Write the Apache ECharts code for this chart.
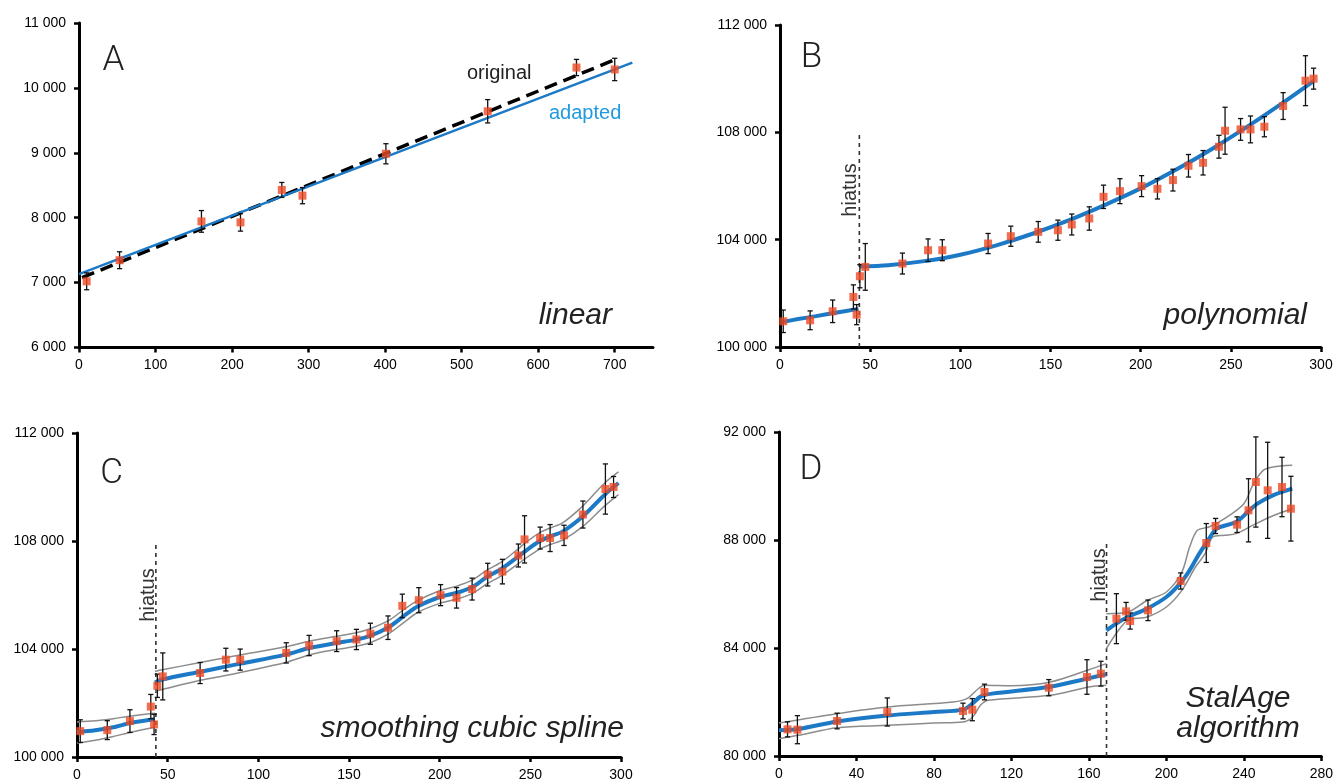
<!DOCTYPE html>
<html>
<head>
<meta charset="utf-8">
<script src="https://cdn.jsdelivr.net/npm/echarts@6/dist/echarts.min.js"></script>
<style>html,body{margin:0;padding:0;background:#fff}#c{width:1336px;height:784px}</style>
</head>
<body>
<div id="c"></div>
<script>
// ---------- Panel A (linear) ----------
const A_x   = [10, 53, 160, 211, 265, 292, 401, 534, 650, 700];
const A_age = [7020, 7345, 7943, 7928, 8428, 8340, 8985, 9640, 10314, 10284];
const A_err = [130, 130, 167, 135, 115, 125, 155, 180, 125, 172];
const A_adapted_x = [0, 723];
const A_adapted_y = [7130, 10390];
const A_original_x = [4, 702];
const A_original_y = [7077, 10443];
const A_xticks = [0, 100, 200, 300, 400, 500, 600, 700];

// ---------- Panels B & C (same dated samples) ----------
const BC_x   = [1.8, 16.7, 29.2, 40.7, 42.5, 44.3, 47.3, 67.9, 82.1, 90, 115.4, 128, 143.2, 154.1, 161.8, 171.5, 179.4, 188.5, 200.5, 209.3, 217.9, 226.5, 234.6, 243.4, 246.8, 255.4, 260.9, 268.6, 279, 291.4, 295.9];
const BC_age = [100958, 100995, 101330, 101866, 101206, 102637, 102985, 103110, 103607, 103607, 103856, 104129, 104291, 104353, 104565, 104789, 105597, 105808, 105995, 105896, 106219, 106754, 106866, 107463, 108060, 108109, 108109, 108209, 108980, 109925, 110000];
const BC_err = [420, 350, 420, 450, 375, 430, 870, 390, 420, 390, 375, 375, 385, 375, 390, 435, 435, 465, 390, 380, 405, 420, 455, 425, 875, 405, 500, 375, 500, 930, 390];

// Panel B polynomial fit (two segments, split by hiatus)
const B_fit1_x = [1, 10, 20, 30, 43.5];
const B_fit1_y = [100930, 101040, 101150, 101270, 101420];
const B_fit2_x = [44.5, 60, 80, 100, 120, 140, 160, 180, 200, 220, 240, 260, 280, 296];
const B_fit2_y = [103000, 103050, 103200, 103440, 103790, 104220, 104720, 105290, 105910, 106620, 107400, 108250, 109155, 109920];
const B_hiatus_x = 44;
const B_hiatus_top = 108050;

// Panel C smoothing spline (median + bounds)
const C_fit1_x  = [0, 10, 20, 30, 43];
const C_fit1_y  = [100920, 100990, 101100, 101270, 101400];
const C_fit1_hi = [101300, 101340, 101420, 101520, 101620];
const C_fit1_lo = [100520, 100620, 100760, 100920, 101100];
const C_fit2_x  = [43, 47, 68, 82, 90, 115, 128, 143, 154, 162, 172, 180, 188, 200, 209, 218, 226, 234, 243, 247, 255, 261, 268, 279, 291, 298.6];
const C_fit2_y  = [102760, 102870, 103160, 103346, 103457, 103790, 104037, 104222, 104346, 104494, 104815, 105210, 105580, 105926, 106074, 106296, 106667, 106963, 107407, 107617, 107988, 108173, 108358, 108914, 109716, 110148];
const C_fit2_hi = [103170, 103230, 103500, 103680, 103780, 104080, 104290, 104470, 104600, 104760, 105060, 105450, 105800, 106160, 106320, 106550, 106920, 107220, 107690, 107920, 108300, 108480, 108680, 109300, 110150, 110560];
const C_fit2_lo = [102430, 102500, 102840, 103020, 103130, 103500, 103780, 103980, 104100, 104240, 104570, 104970, 105360, 105690, 105840, 106050, 106410, 106710, 107140, 107340, 107690, 107870, 108040, 108540, 109300, 109720];
const C_hiatus_x = 43.5;
const C_hiatus_top = 108000;

// ---------- Panel D (StalAge) ----------
const D_x   = [4.4, 9.5, 30, 55.9, 95, 99.8, 106.1, 139.3, 159, 166.2, 174.2, 179.2, 181.3, 190.5, 207.4, 220.6, 225.4, 236.5, 242.4, 246.2, 252.3, 259.7, 264.3];
const D_age = [80988, 80975, 81296, 81630, 81667, 81716, 82370, 82530, 82926, 83049, 85086, 85358, 85000, 85395, 86481, 87889, 88519, 88568, 89099, 90148, 89840, 89963, 89160];
const D_err = [280, 520, 290, 520, 290, 410, 290, 300, 640, 460, 925, 330, 300, 380, 300, 720, 280, 290, 1170, 1670, 1780, 1100, 1200];

const D_fit1_x = [0, 10, 30, 56, 80, 95, 100, 104, 110, 139, 159, 169];
const D_fit1_y = [80950, 81000, 81280, 81500, 81630, 81716, 81950, 82200, 82310, 82556, 82864, 83025];
const D_hi1_x  = [0, 30, 56, 90, 97, 103, 106, 120, 140, 160, 169];
const D_hi1_y  = [81222, 81568, 81815, 82000, 82123, 82500, 82617, 82600, 82740, 83197, 83420];
const D_lo1_x  = [0, 10, 30, 56, 80, 95, 100, 104, 108, 140, 160, 169];
const D_lo1_y  = [80642, 80765, 81049, 81136, 81222, 81259, 81444, 81877, 82062, 82247, 82556, 82617];
const D_fit2_x = [169, 174, 180, 190, 200, 207, 212, 217, 221, 226, 236, 242, 247, 255, 265];
const D_fit2_y = [84654, 84900, 85148, 85457, 85889, 86383, 86877, 87494, 87926, 88420, 88667, 89037, 89346, 89654, 89901];
const D_hi2_x  = [169, 180, 190, 200, 208, 212, 216, 222, 230, 240, 245, 250, 255, 265];
const D_hi2_y  = [85270, 85330, 85760, 86074, 86815, 87741, 88358, 88481, 88790, 89346, 90086, 90580, 90704, 90765];
const D_lo2_x  = [169, 174, 180, 190, 200, 208, 215, 220, 224, 230, 236, 245, 255, 265];
const D_lo2_y  = [83975, 84530, 85025, 85148, 85519, 86136, 87000, 87494, 88111, 88173, 88235, 88560, 88900, 89160];
const D_hiatus_x = 169.1;
const D_hiatus_top = 87950;

// ---------- styling ----------
const BLUE = '#1c79c6';
const RED = '#ee4a25';
const GREY = '#8c8c8c';
const TICK_FONT = '"Liberation Sans", Arial, sans-serif';

const zip = (xs, ys) => xs.map((x, i) => [x, ys[i]]);
const fmt = v => String(v).replace(/\B(?=(\d{3})+(?!\d))/g, ' ');

function xAxis(grid, max, interval, custom) {
  const ax = {
    type: 'value', gridIndex: grid, min: 0, max: max, interval: interval,
    axisLine: { show: true, onZero: false, lineStyle: { color: '#000', width: 3 } },
    axisTick: { show: true, length: 5, lineStyle: { color: '#000', width: 2.5 } },
    axisLabel: { color: '#000', fontSize: 14, fontFamily: TICK_FONT, margin: 11 },
    splitLine: { show: false }
  };
  if (custom) {
    ax.axisTick.customValues = custom;
    ax.axisLabel.customValues = custom;
  }
  return ax;
}
function yAxis(grid, min, max, interval) {
  return {
    type: 'value', gridIndex: grid, min: min, max: max, interval: interval,
    axisLine: { show: true, onZero: false, lineStyle: { color: '#000', width: 3 } },
    axisTick: { show: true, length: 5, lineStyle: { color: '#000', width: 2.5 } },
    axisLabel: { color: '#000', fontSize: 14, fontFamily: TICK_FONT, margin: 13, formatter: fmt },
    splitLine: { show: false }
  };
}

function lineS(idx, data, color, width, extra) {
  return Object.assign({
    type: 'line', xAxisIndex: idx, yAxisIndex: idx, data: data,
    showSymbol: false, symbol: 'none', smooth: 0.3,
    lineStyle: { color: color, width: width }, z: 2, silent: true, animation: false
  }, extra || {});
}
function errS(idx, xs, ys, es) {
  return {
    type: 'custom', xAxisIndex: idx, yAxisIndex: idx, z: 4, silent: true,
    data: xs.map((x, i) => [x, ys[i], es[i]]),
    renderItem: function (params, api) {
      const x = api.value(0), y = api.value(1), e = api.value(2);
      const t = api.coord([x, y + e]), b = api.coord([x, y - e]);
      const w = 2.6, st = { stroke: '#111', lineWidth: 1.3 };
      return { type: 'group', children: [
        { type: 'line', shape: { x1: t[0], y1: t[1], x2: b[0], y2: b[1] }, style: st },
        { type: 'line', shape: { x1: t[0] - w, y1: t[1], x2: t[0] + w, y2: t[1] }, style: st },
        { type: 'line', shape: { x1: b[0] - w, y1: b[1], x2: b[0] + w, y2: b[1] }, style: st }
      ]};
    }
  };
}
function ptS(idx, xs, ys) {
  return {
    type: 'scatter', xAxisIndex: idx, yAxisIndex: idx, data: zip(xs, ys),
    symbol: 'rect', symbolSize: 8, itemStyle: { color: RED }, z: 5, silent: true
  };
}
function hiatusS(idx, x, top, bottom) {
  return {
    type: 'line', xAxisIndex: idx, yAxisIndex: idx, data: [[x, bottom], [x, top]],
    showSymbol: false, symbol: 'none',
    lineStyle: { color: '#333', width: 1.6, type: [4, 4] }, z: 1, silent: true
  };
}

const series = [
  // A
  lineS(0, zip(A_original_x, A_original_y), '#000', 3.5, { smooth: false, lineStyle: { color: '#000', width: 3.5, type: [13, 7] }, z: 2 }),
  lineS(0, zip(A_adapted_x, A_adapted_y), BLUE, 2.5, { smooth: false, z: 3 }),
  errS(0, A_x, A_age, A_err),
  ptS(0, A_x, A_age),
  // B
  hiatusS(1, B_hiatus_x, B_hiatus_top, 100000),
  lineS(1, zip(B_fit1_x, B_fit1_y), BLUE, 4),
  lineS(1, zip(B_fit2_x, B_fit2_y), BLUE, 4),
  errS(1, BC_x, BC_age, BC_err),
  ptS(1, BC_x, BC_age),
  // C
  hiatusS(2, C_hiatus_x, C_hiatus_top, 100000),
  lineS(2, zip(C_fit1_x, C_fit1_hi), GREY, 1.5),
  lineS(2, zip(C_fit1_x, C_fit1_lo), GREY, 1.5),
  lineS(2, zip(C_fit2_x, C_fit2_hi), GREY, 1.5),
  lineS(2, zip(C_fit2_x, C_fit2_lo), GREY, 1.5),
  lineS(2, zip(C_fit1_x, C_fit1_y), BLUE, 4, { z: 3 }),
  lineS(2, zip(C_fit2_x, C_fit2_y), BLUE, 4, { z: 3 }),
  errS(2, BC_x, BC_age, BC_err),
  ptS(2, BC_x, BC_age),
  // D
  hiatusS(3, D_hiatus_x, D_hiatus_top, 80000),
  lineS(3, zip(D_hi1_x, D_hi1_y), GREY, 1.5),
  lineS(3, zip(D_lo1_x, D_lo1_y), GREY, 1.5),
  lineS(3, zip(D_hi2_x, D_hi2_y), GREY, 1.5),
  lineS(3, zip(D_lo2_x, D_lo2_y), GREY, 1.5),
  lineS(3, zip(D_fit1_x, D_fit1_y), BLUE, 4, { z: 3 }),
  lineS(3, zip(D_fit2_x, D_fit2_y), BLUE, 4, { z: 3 }),
  errS(3, D_x, D_age, D_err),
  ptS(3, D_x, D_age)
];

function txt(x, y, text, font, fill, align, rotation) {
  return {
    type: 'text', x: x, y: y, rotation: rotation || 0, silent: true, z: 10,
    style: { text: text, font: font, fill: fill, align: align, verticalAlign: 'middle',
             textAlign: align, textVerticalAlign: 'middle' }
  };
}
const LETTER = '300 35px Roboto, "Liberation Sans", sans-serif';
const ITAL = 'italic 30px "Liberation Sans", Arial, sans-serif';
const HIA = '20px "Liberation Sans", Arial, sans-serif';

const option = {
  animation: false,
  backgroundColor: '#fff',
  grid: [
    { left: 79, top: 23, width: 574, height: 324.5 },
    { left: 780, top: 25, width: 541, height: 322 },
    { left: 77, top: 433, width: 544, height: 324 },
    { left: 779, top: 432, width: 543, height: 324 }
  ],
  xAxis: [
    xAxis(0, 750, 100, A_xticks),
    xAxis(1, 300, 50),
    xAxis(2, 300, 50),
    xAxis(3, 280, 40)
  ],
  yAxis: [
    yAxis(0, 6000, 11000, 1000),
    yAxis(1, 100000, 112000, 4000),
    yAxis(2, 100000, 112000, 4000),
    yAxis(3, 80000, 92000, 4000)
  ],
  series: series,
  graphic: [
    txt(113.5, 61.5, 'A', LETTER, '#222', 'center'),
    txt(811.5, 58.5, 'B', LETTER, '#222', 'center'),
    txt(111.5, 474, 'C', LETTER, '#222', 'center'),
    txt(811, 470.5, 'D', LETTER, '#222', 'center'),
    txt(612, 315.7, 'linear', ITAL, '#222', 'right'),
    txt(1307, 315.7, 'polynomial', ITAL, '#222', 'right'),
    txt(624, 729, 'smoothing cubic spline', ITAL, '#222', 'right'),
    txt(1238, 698.5, 'StalAge', ITAL, '#222', 'center'),
    txt(1238, 728.5, 'algorithm', ITAL, '#222', 'center'),
    txt(467, 73.8, 'original', '20px "Liberation Sans", Arial, sans-serif', '#222', 'left'),
    txt(549, 113.8, 'adapted', '20px "Liberation Sans", Arial, sans-serif', '#1f9ade', 'left'),
    txt(850.8, 190, 'hiatus', HIA, '#333', 'center', Math.PI / 2),
    txt(148.2, 595, 'hiatus', HIA, '#333', 'center', Math.PI / 2),
    txt(1099.4, 575, 'hiatus', HIA, '#333', 'center', Math.PI / 2)
  ]
};

const chart = echarts.init(document.getElementById('c'), null, { renderer: 'canvas' });
chart.setOption(option);
</script>
</body>
</html>
